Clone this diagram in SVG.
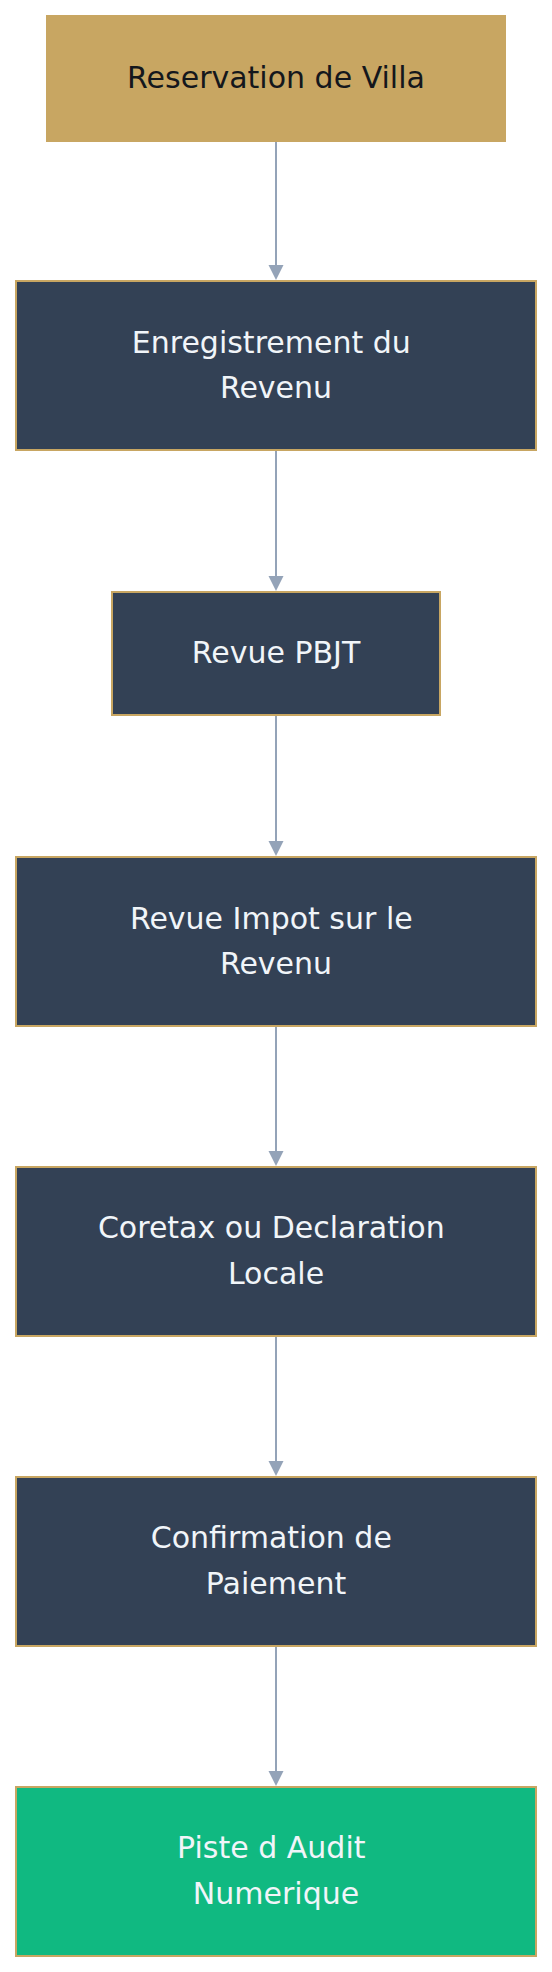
<svg xmlns="http://www.w3.org/2000/svg" width="552" height="1972" viewBox="0 0 552 1972">
  <style>
    .node { stroke: #c8a662; stroke-width: 2; }
    .dark { fill: #334155; }
    .gold { fill: #c8a662; }
    .green { fill: #10b981; }
    .lbl { font-family: "DejaVu Sans", "Liberation Sans", sans-serif; font-size: 30px; text-anchor: middle; fill: #f1f5f9; }
    .lbl-dark { fill: #14171c; }
    .edge { stroke: #94a3b8; stroke-width: 2; fill: none; }
    .head { fill: #94a3b8; }
  </style>
  <rect x="0" y="0" width="552" height="1972" fill="#ffffff"/>
  <g id="connectors">
    <line class="edge" x1="276" y1="142" x2="276" y2="266"/>
    <polygon class="head" points="268.5,265 283.5,265 276,280"/>
    <line class="edge" x1="276" y1="451" x2="276" y2="577"/>
    <polygon class="head" points="268.5,576 283.5,576 276,591"/>
    <line class="edge" x1="276" y1="716" x2="276" y2="842"/>
    <polygon class="head" points="268.5,841 283.5,841 276,856"/>
    <line class="edge" x1="276" y1="1026" x2="276" y2="1152"/>
    <polygon class="head" points="268.5,1151 283.5,1151 276,1166"/>
    <line class="edge" x1="276" y1="1336" x2="276" y2="1462"/>
    <polygon class="head" points="268.5,1461 283.5,1461 276,1476"/>
    <line class="edge" x1="276" y1="1646" x2="276" y2="1772"/>
    <polygon class="head" points="268.5,1771 283.5,1771 276,1786"/>
  </g>
  <g id="node-reservation">
    <rect class="gold" x="46" y="15" width="460" height="127"/>
    <text class="lbl lbl-dark" x="276" y="87.5">Reservation de Villa</text>
  </g>
  <g id="node-enregistrement">
    <rect class="node dark" x="16" y="281" width="520" height="169"/>
    <text class="lbl" x="271.3" y="353">Enregistrement du</text>
    <text class="lbl" x="276" y="398">Revenu</text>
  </g>
  <g id="node-pbjt">
    <rect class="node dark" x="112" y="592" width="328" height="123"/>
    <text class="lbl" x="276" y="662.5">Revue PBJT</text>
  </g>
  <g id="node-impot">
    <rect class="node dark" x="16" y="857" width="520" height="169"/>
    <text class="lbl" x="271.3" y="928.5">Revue Impot sur le</text>
    <text class="lbl" x="276" y="974">Revenu</text>
  </g>
  <g id="node-coretax">
    <rect class="node dark" x="16" y="1167" width="520" height="169"/>
    <text class="lbl" x="271.3" y="1238">Coretax ou Declaration</text>
    <text class="lbl" x="276" y="1284">Locale</text>
  </g>
  <g id="node-confirmation">
    <rect class="node dark" x="16" y="1477" width="520" height="169"/>
    <text class="lbl" x="271.3" y="1548">Confirmation de</text>
    <text class="lbl" x="276" y="1594">Paiement</text>
  </g>
  <g id="node-piste">
    <rect class="node green" x="16" y="1787" width="520" height="169"/>
    <text class="lbl" x="271.3" y="1858">Piste d Audit</text>
    <text class="lbl" x="276" y="1904">Numerique</text>
  </g>
</svg>
